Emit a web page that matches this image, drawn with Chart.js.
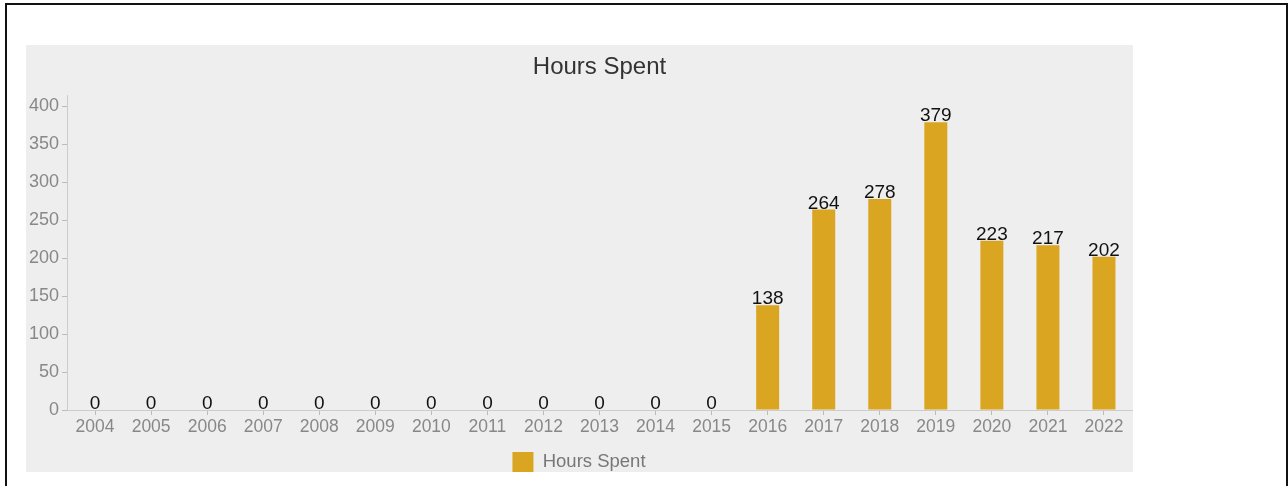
<!DOCTYPE html>
<html>
<head>
<meta charset="utf-8">
<script src="https://cdn.jsdelivr.net/npm/chart.js"></script>
<style>
  body { margin: 0; background: #fff; }
  #frame { position: absolute; left: 5px; top: 3px; width: 1279px; height: 500px; border: 2px solid #111; }
  #panel { position: absolute; left: 26px; top: 45px; width: 1107px; height: 427px; background: #eeeeee; }
</style>
</head>
<body>
<div id="frame"></div>
<div id="panel"><canvas id="c"></canvas></div>
<script>
const years = ["2004","2005","2006","2007","2008","2009","2010","2011","2012","2013","2014","2015","2016","2017","2018","2019","2020","2021","2022"];
const hours = [0,0,0,0,0,0,0,0,0,0,0,0,138,264,278,379,223,217,202];
const yTicks = [0,50,100,150,200,250,300,350,400];
const seriesName = "Hours Spent";
const chartTitle = "Hours Spent";
const barColor = "#DAA520";
const FONT = '"Liberation Sans", Arial, sans-serif';

// title centred over the plot area, and the value above each bar
const labels = {
  id: 'labels',
  afterDatasetsDraw(chart) {
    const ctx = chart.ctx;
    const area = chart.chartArea;
    ctx.save();
    ctx.textAlign = 'center';
    ctx.font = '24px ' + FONT;
    ctx.fillStyle = '#333';
    ctx.textBaseline = 'middle';
    ctx.fillText(chartTitle, (area.left + area.right) / 2, 22);
    ctx.font = '19px ' + FONT;
    ctx.fillStyle = '#111';
    ctx.textBaseline = 'alphabetic';
    chart.getDatasetMeta(0).data.forEach((bar, i) => {
      ctx.fillText(String(hours[i]), bar.x, bar.y - 1);
    });
    ctx.restore();
  }
};

Chart.defaults.font.family = FONT;
new Chart(document.getElementById('c'), {
  type: 'bar',
  data: {
    labels: years,
    datasets: [{ label: seriesName, data: hours, backgroundColor: barColor, barPercentage: 0.41, categoryPercentage: 1 }]
  },
  options: {
    responsive: true,
    maintainAspectRatio: false,
    animation: false,
    layout: { padding: { left: 0, right: 1, top: 50, bottom: -10 } },
    plugins: {
      title: { display: false },
      legend: { position: 'bottom', labels: { color: '#777', font: { size: 18.5 }, boxWidth: 21, boxHeight: 20, padding: 0 } },
      tooltip: { enabled: false }
    },
    scales: {
      x: {
        afterFit: s => { s.height += 12; },
        grid: { drawOnChartArea: false, offset: false, color: '#bbb', tickLength: 5 },
        border: { color: '#ccc' },
        ticks: { color: '#888', font: { size: 17.5 }, padding: 2, maxRotation: 0, autoSkip: false }
      },
      y: {
        min: 0, max: 415,
        afterBuildTicks: s => { s.ticks = yTicks.map(v => ({ value: v })); },
        grid: { drawOnChartArea: false, color: '#bbb', tickLength: 5 },
        border: { color: '#ccc' },
        ticks: { color: '#888', font: { size: 18 }, padding: 3 }
      }
    }
  },
  plugins: [labels]
});
</script>
</body>
</html>
